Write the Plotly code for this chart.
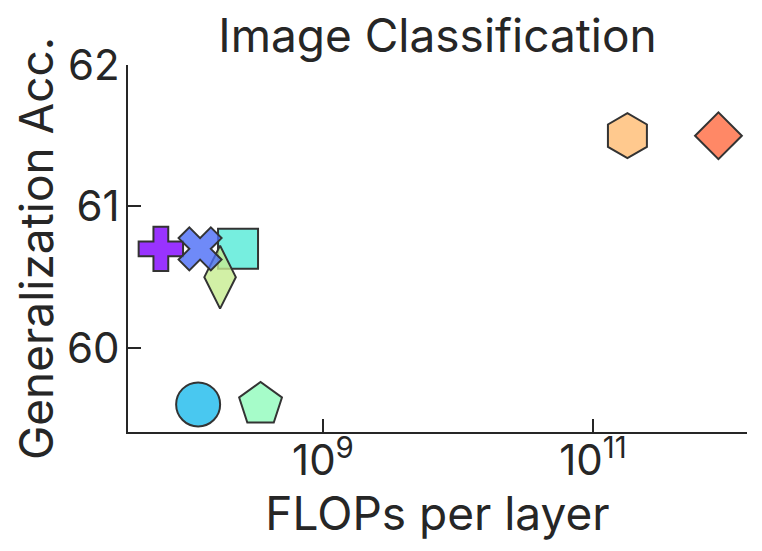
import plotly.graph_objects as go

# FLOPs per layer (log scale) and generalization accuracy, one point per model
flops = [6.3e7, 1.23e8, 2.35e8, 1.73e8, 1.19e8, 3.45e8, 1.8e11, 8.5e11]
acc = [60.7, 60.7, 60.7, 60.5, 59.6, 59.6, 61.5, 61.5]
symbols = ['cross', 'x', 'square', 'diamond-tall', 'circle', 'pentagon', 'hexagon', 'diamond']
colors = ['rgba(128,0,255,0.8)', 'rgba(75,109,246,0.8)', 'rgba(84,234,215,0.8)',
          'rgba(199,236,144,0.8)', 'rgba(28,186,236,0.8)', 'rgba(144,251,188,0.8)',
          'rgba(255,188,114,0.8)', 'rgba(255,106,64,0.8)']
sizes = [37, 38, 40, 45, 44, 45, 45, 36]

# drawing order so overlaps look like the reference
order = [2, 3, 0, 1, 4, 5, 6, 7]

x_ticks = [1e9, 1e11]
x_ticktext = ['10<sup>9</sup>', '10<sup>11</sup>']
y_ticks = [60, 61, 62]

ink = '#262626'

fig = go.Figure()
for i in order:
    fig.add_scatter(
        x=[flops[i]], y=[acc[i]], mode='markers',
        marker=dict(symbol=symbols[i], size=sizes[i], color=colors[i],
                    line=dict(color='#333333', width=2)),
        showlegend=False,
    )

# page body adds an 8px margin, so the figure is a bit smaller than the window
W, H = 746, 535
fig.update_layout(
    width=W, height=H,
    margin=dict(l=120, r=7, t=57, b=111),
    paper_bgcolor='white', plot_bgcolor='white',
    font=dict(family='Inter', color=ink, size=42),
    title=dict(text='Image Classification', x=0.5, xref='paper',
               y=1 - 28 / H, yref='container', yanchor='middle',
               font=dict(size=46, color=ink)),
)
fig.update_xaxes(
    type='log', range=[7.556, 12.141], automargin=False,
    tickvals=x_ticks, ticktext=x_ticktext,
    ticks='inside', ticklen=13, tickwidth=2, tickcolor=ink,
    showline=True, linecolor=ink, linewidth=2, showgrid=False, zeroline=False,
    ticklabelstandoff=-9,
    title=dict(text='FLOPs per layer', font=dict(size=46), standoff=4),
)
fig.update_yaxes(
    range=[59.405, 62.0], tickvals=y_ticks, automargin=False,
    ticks='inside', ticklen=13, tickwidth=2, tickcolor=ink,
    showline=True, linecolor=ink, linewidth=2, showgrid=False, zeroline=False,
    ticklabelstandoff=-2,
    title=dict(text='Generalization Acc.', font=dict(size=46), standoff=0),
)

fig.write_html('out.html')
